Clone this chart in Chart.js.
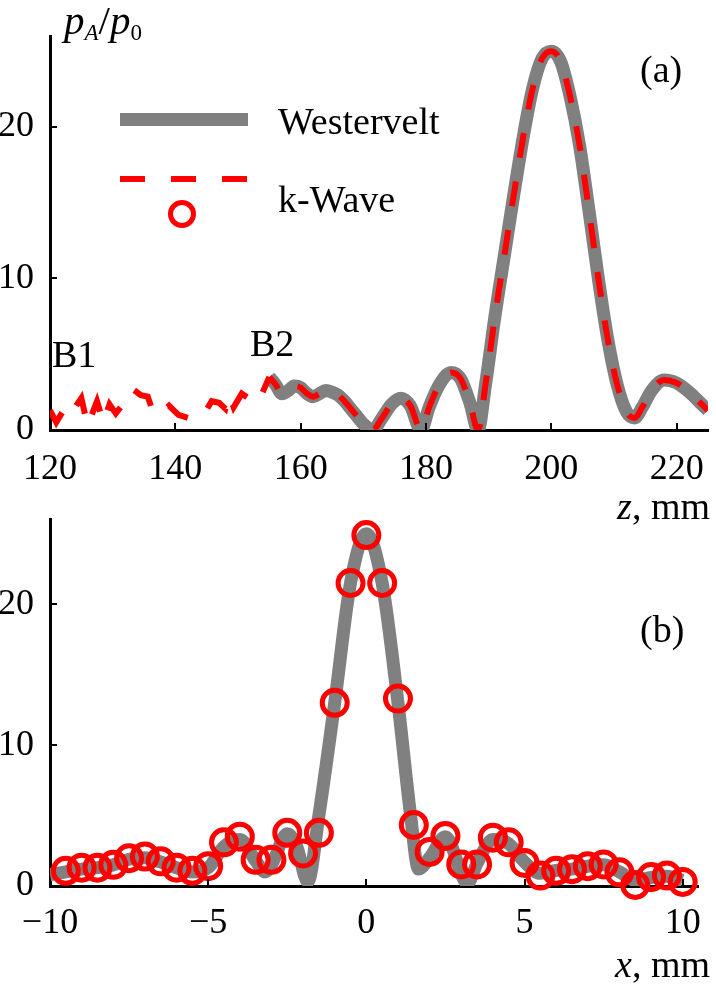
<!DOCTYPE html>
<html>
<head>
<meta charset="utf-8">
<script src="https://cdn.jsdelivr.net/npm/chart.js@4.4.0/dist/chart.umd.min.js"></script>
<style>
  body { margin: 0; background: #fff; width: 716px; height: 985px; overflow: hidden; position: relative; }
  canvas { position: absolute; left: 0; }
  .lbl { position: absolute; font-family: 'Liberation Serif', 'Times New Roman', serif; font-size: 38px; line-height: 1; color: #000; white-space: nowrap; }
  .lbl sub { font-size: 23px; vertical-align: -6px; line-height: 0; }
  .big { font-size: 41px; }
</style>
</head>
<body>
<canvas id="chartA" width="716" height="490" style="top:0"></canvas>
<canvas id="chartB" width="716" height="495" style="top:490px"></canvas>

<div class="lbl big" style="left:64px; top:0px"><i>p</i><sub><i>A</i></sub>/<i>p</i><sub>0</sub></div>
<div class="lbl" style="left:640px; top:50px">(a)</div>
<div class="lbl" style="left:278px; top:102px">Westervelt</div>
<div class="lbl" style="left:278px; top:180px">k-Wave</div>
<div class="lbl" style="left:52px; top:335px">B1</div>
<div class="lbl" style="left:250px; top:324px">B2</div>
<div class="lbl" style="right:6px; top:487px"><i>z</i>, mm</div>
<div class="lbl" style="left:640px; top:610px">(b)</div>
<div class="lbl" style="right:6px; top:945px"><i>x</i>, mm</div>

<script>
// (a) axial distribution, z in mm
var zWest = [155,156,157,158,159,160,161,162,163,164,165,166,167,168,169,170,171.5,173,174.5,176,177.5,179.2,180.5,182,184,185.5,187,188.3,189.5,191,192.5,194,195.5,197,198.5,200,201.5,203,204.5,206,207.5,209,210.5,212,213.3,214.5,216,218,220,222,224,225];
var pWest = [3.5,3.0,2.4,2.6,2.9,2.8,2.4,2.2,2.4,2.6,2.5,2.3,1.9,1.4,0.9,0.4,0.0,0.8,1.7,2.1,1.6,0.0,1.5,2.9,3.8,3.4,1.8,0.0,3.0,7.5,11.5,15.5,19.3,22.5,24.5,25.0,24.3,22.0,18.8,14.5,10.0,6.0,3.0,1.2,0.8,1.5,2.6,3.3,3.1,2.5,1.7,1.3];
// k-Wave before B2 (after B2 it lies on the Westervelt curve)
var zKwave = [120,121,122,123,124,125,126,127.5,128.5,129.5,130.5,132,133.2,134.5,135.6,136.5,138,139,140.5,142,143.5,144.5,145.8,147,148,148.6,149.3,150.6,152,153.2,155];
var pKwave = [1.3,0.5,1.2,1.9,1.5,2.1,0.3,1.9,0.5,1.7,1.1,1.9,2.7,2.3,2.2,1.1,1.2,1.6,1.0,0.8,0.8,1.0,1.9,1.8,1.4,2.3,1.5,2.4,2.0,1.8,3.5];

// (b) transverse distribution, x in mm
var xWest = [-10,-9.5,-9,-8.5,-8,-7.5,-7,-6.5,-6,-5.5,-5,-4.5,-4,-3.5,-3.2,-3,-2.5,-2.2,-1.85,-1.5,-1,-0.5,0,0.5,1,1.4,1.65,2,2.5,3.2,3.5,4,4.5,5,5.5,6,6.5,7,7.5,8,8.5,9,9.5,10];
var qWest = [0.8,1.0,1.2,1.3,1.5,1.9,2.0,1.7,1.3,1.0,1.3,2.8,3.3,1.8,1.0,1.5,3.7,2.8,0.3,5.0,13.0,21.5,25.0,21.5,13.0,5.0,1.2,2.0,3.5,0.2,1.6,3.3,3.0,1.7,0.9,1.1,1.2,1.4,1.5,1.0,0.4,0.6,0.7,0.4];
var xKwave = [-9.5,-9,-8.5,-8,-7.5,-7,-6.5,-6,-5.5,-5,-4.5,-4,-3.5,-3,-2.5,-2,-1.5,-1,-0.5,0,0.5,1,1.5,2,2.5,3,3.5,4,4.5,5,5.5,6,6.5,7,7.5,8,8.5,9,9.5,10];
var qKwave = [1.08,1.3,1.3,1.5,1.97,2.09,1.75,1.3,1.08,1.41,3.1,3.5,1.86,1.86,3.77,2.31,3.77,13.0,21.5,24.9,21.5,13.3,4.33,2.42,3.55,1.53,1.53,3.43,3.1,1.64,0.74,1.08,1.19,1.41,1.53,0.97,0.07,0.63,0.74,0.29];

var zTicks = [120,140,160,180,200,220];
var xTicks = [-10,-5,0,5,10];
var yTicks = [0,10,20];

var GRAY = '#808080';
var RED = '#ff0000';
var tickFont = { family: "'Liberation Serif', 'Times New Roman', serif", size: 36 };

function pts(xs, ys) {
    var out = [];
    for (var i = 0; i < xs.length; i++) out.push({ x: xs[i], y: ys[i] });
    return out;
}

function fixTicks(list) {
    return function (scale) {
        scale.ticks = list.map(function (v) { return { value: v }; });
    };
}

function minus(v) {
    return v < 0 ? '\u2212' + Math.abs(v) : String(v);
}

// short tick marks pointing into the plot
var innerTicks = {
    id: 'innerTicks',
    afterDraw: function (chart) {
        var c = chart.ctx, a = chart.chartArea;
        var sx = chart.scales.x, sy = chart.scales.y;
        c.save();
        c.strokeStyle = '#000';
        c.lineWidth = 2;
        sx.ticks.forEach(function (t) {
            var px = Math.round(sx.getPixelForValue(t.value));
            c.beginPath(); c.moveTo(px, a.bottom); c.lineTo(px, a.bottom - 7); c.stroke();
        });
        sy.ticks.forEach(function (t) {
            var py = Math.round(sy.getPixelForValue(t.value));
            c.beginPath(); c.moveTo(a.left, py); c.lineTo(a.left + 7, py); c.stroke();
        });
        c.restore();
    }
};

// legend samples for panel (a)
var legendMarks = {
    id: 'legendMarks',
    afterDraw: function (chart) {
        var c = chart.ctx;
        c.save();
        c.lineCap = 'butt';
        c.strokeStyle = GRAY;
        c.lineWidth = 13;
        c.beginPath(); c.moveTo(120, 119.5); c.lineTo(248, 119.5); c.stroke();
        c.strokeStyle = RED;
        c.lineWidth = 6;
        c.setLineDash([25, 26]);
        c.beginPath(); c.moveTo(120, 179); c.lineTo(248, 179); c.stroke();
        c.setLineDash([]);
        c.lineWidth = 5;
        c.beginPath(); c.arc(182, 214, 11.5, 0, Math.PI * 2); c.stroke();
        c.restore();
    }
};

function axes(xMin, xMax, xList, xPad, xHeight) {
    return {
        x: {
            type: 'linear', min: xMin, max: xMax,
            afterBuildTicks: fixTicks(xList),
            afterFit: function (s) { s.height = xHeight; },
            grid: { display: false },
            border: { display: true, color: '#000', width: 3 },
            ticks: { font: tickFont, color: '#000', padding: xPad, maxRotation: 0, callback: minus }
        },
        y: {
            type: 'linear', min: 0, max: 26,
            afterBuildTicks: fixTicks(yTicks),
            afterFit: function (s) { s.width = 50; },
            grid: { display: false },
            border: { display: true, color: '#000', width: 3 },
            ticks: { font: tickFont, color: '#000', padding: 8 }
        }
    };
}

var chartA = new Chart(document.getElementById('chartA').getContext('2d'), {
    type: 'line',
    data: {
        datasets: [{
            label: 'Westervelt',
            data: pts(zWest, pWest),
            borderColor: GRAY,
            borderWidth: 13,
            pointRadius: 0,
            cubicInterpolationMode: 'monotone',
            order: 3
        }, {
            label: 'k-Wave',
            data: pts(zKwave, pKwave),
            borderColor: RED,
            borderWidth: 6,
            borderDash: [25, 24],
            pointRadius: 0,
            tension: 0,
            order: 1
        }, {
            label: 'k-Wave',
            data: pts(zWest, pWest),
            borderColor: RED,
            borderWidth: 6,
            borderDash: [25, 24],
            borderDashOffset: 10,
            pointRadius: 0,
            cubicInterpolationMode: 'monotone',
            order: 2
        }]
    },
    options: {
        responsive: false,
        animation: false,
        layout: { padding: { top: 36, right: 8, left: 0, bottom: 0 } },
        plugins: { legend: { display: false }, tooltip: { enabled: false } },
        scales: axes(120, 225, zTicks, 10, 60)
    },
    plugins: [innerTicks, legendMarks]
});

var chartB = new Chart(document.getElementById('chartB').getContext('2d'), {
    type: 'line',
    data: {
        datasets: [{
            label: 'Westervelt',
            data: pts(xWest, qWest),
            borderColor: GRAY,
            borderWidth: 13,
            pointRadius: 0,
            cubicInterpolationMode: 'monotone',
            order: 2
        }, {
            label: 'k-Wave',
            data: pts(xKwave, qKwave),
            showLine: false,
            borderColor: RED,
            backgroundColor: 'rgba(0,0,0,0)',
            pointStyle: 'circle',
            pointRadius: 12.5,
            pointBorderWidth: 5,
            clip: false,
            order: 1
        }]
    },
    options: {
        responsive: false,
        animation: false,
        layout: { padding: { top: 10, right: 7, left: 0, bottom: 0 } },
        plugins: { legend: { display: false }, tooltip: { enabled: false } },
        scales: axes(-10, 10.5, xTicks, 8, 99)
    },
    plugins: [innerTicks]
});
</script>
</body>
</html>
